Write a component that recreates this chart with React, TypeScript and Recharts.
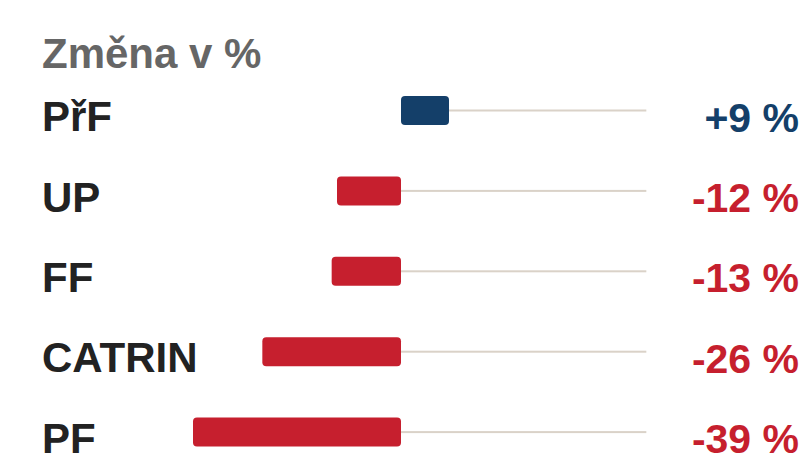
import React from 'react';
import { BarChart, Bar, XAxis, YAxis, Cell, LabelList } from 'recharts';

const categories = ['PřF', 'UP', 'FF', 'CATRIN', 'PF'];
const changes = [9, -12, -13, -26, -39];
const trackEnd = [46, 46, 46, 46, 46];

const FONT = '"Liberation Sans", Arial, Helvetica, sans-serif';
const BLUE = '#143f69';
const RED = '#c61f2e';

const data = categories.map((name, i) => ({ name, change: changes[i], track: trackEnd[i] }));

const fmt = (v: number) => `${v > 0 ? '+' : ''}${v} %`;

const CategoryTick = (props: any) => {
  const { y, payload } = props;
  return (
    <text x={42} y={y + 21} fill="#222" fontFamily={FONT} fontSize={42} fontWeight="bold" textAnchor="start">
      {payload.value}
    </text>
  );
};

const TrackShape = (props: any) => {
  const { x, y, width, height } = props;
  return <rect x={x} y={y + height / 2 - 1} width={width} height={2} fill="#dad2c8" />;
};

const ValueLabel = (props: any) => {
  const { y, height, value } = props;
  return (
    <text
      x={799}
      y={y + height / 2 + 21}
      fill={value >= 0 ? BLUE : RED}
      fontFamily={FONT}
      fontSize={41}
      fontWeight="bold"
      textAnchor="end"
    >
      {fmt(value)}
    </text>
  );
};

export default function App() {
  return (
    <div style={{ position: 'absolute', left: 0, top: 0, width: 801, height: 453, overflow: 'hidden', background: '#fff' }}>
      <div
        style={{
          position: 'absolute',
          left: 42,
          top: 30,
          fontFamily: FONT,
          fontSize: 42,
          fontWeight: 'bold',
          color: '#666',
          lineHeight: '48px',
          whiteSpace: 'nowrap',
        }}
      >
        Změna v %
      </div>
      <BarChart
        width={801}
        height={480}
        data={data}
        layout="vertical"
        margin={{ top: 70, right: 80, bottom: 8, left: 0 }}
        barGap={-29}
      >
        <XAxis type="number" domain={[-60, 60]} hide />
        <YAxis
          type="category"
          dataKey="name"
          width={81}
          axisLine={false}
          tickLine={false}
          tick={<CategoryTick />}
        />
        <Bar dataKey="track" barSize={29} shape={<TrackShape />} isAnimationActive={false} />
        <Bar dataKey="change" barSize={29} radius={4} isAnimationActive={false}>
          {data.map((d) => (
            <Cell key={d.name} fill={d.change >= 0 ? BLUE : RED} />
          ))}
          <LabelList dataKey="change" content={<ValueLabel />} />
        </Bar>
      </BarChart>
    </div>
  );
}
